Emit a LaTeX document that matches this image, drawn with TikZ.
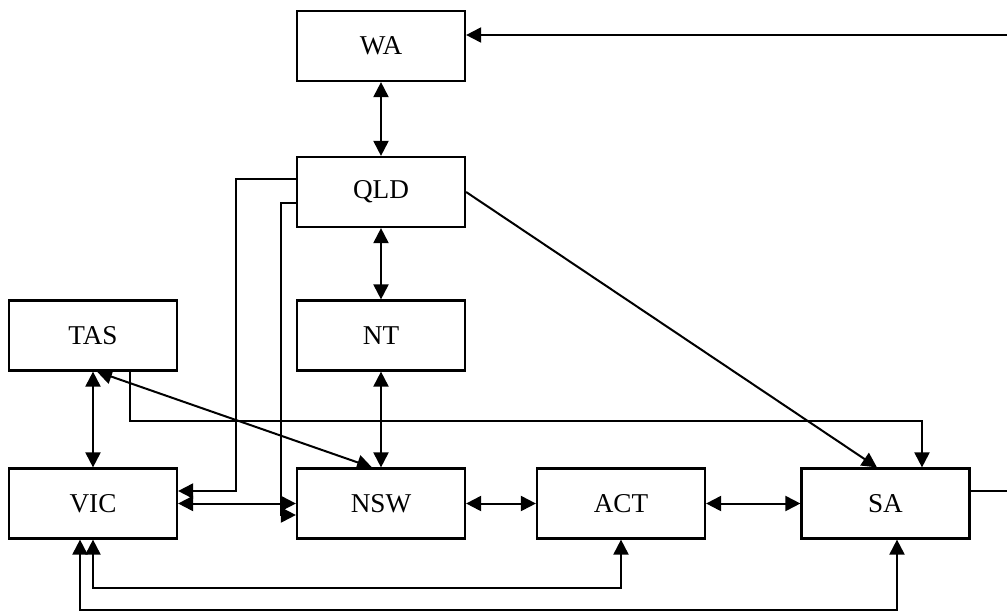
\documentclass[tikz,border=0pt]{standalone}
\usepackage{fontspec}
\setmainfont{Liberation Serif}
\usepackage{tikz}
\usetikzlibrary{arrows.meta}
\usetikzlibrary{calc}

\begin{document}
\begin{tikzpicture}[
        x=0.5pt, y=-0.5pt,
        box/.style={draw, line width=1.1pt, minimum width=84pt, minimum height=35pt, inner sep=0pt, align=center, font=\fontsize{13.6}{16}\selectfont},
        arrow/.style={-{Triangle[length=7.5pt,width=7.5pt]}, line width=1pt},
        biarrow/.style={{Triangle[length=7.5pt,width=7.5pt]}-{Triangle[length=7.5pt,width=7.5pt]}, line width=1pt}
    ]
        \useasboundingbox (0,0) rectangle (1007,611);
        \clip (0,0) rectangle (1007,611);

        % State boxes
        \node[box] (wa) at (381,46) {WA};
        \node[box] (qld) at (381,192) {QLD};
        \node[box] (nt) at (381,335.5) {NT};
        \node[box] (tas) at (93,335.5) {TAS};
        \node[box] (vic) at (93,503.5) {VIC};
        \node[box] (nsw) at (381,503.5) {NSW};
        \node[box] (act) at (621,503.5) {ACT};
        \node[box] (sa) at (885.5,503.5) {SA};

        % Straight links
        \draw[biarrow] (wa) -- (qld);
        \draw[biarrow] (qld) -- (nt);
        \draw[biarrow] (nt) -- (nsw);
        \draw[biarrow] (tas) -- (vic);
        \draw[biarrow] (vic) -- (nsw);
        \draw[biarrow] (nsw) -- (act);
        \draw[biarrow] (act) -- (sa);
        \draw[biarrow] ($(tas.south)+(4,0)$) -- ($(nsw.north)+(-9,0)$);
        \draw[arrow] (qld.east) -- ($(sa.north)+(-8.5,0)$);

        % Elbow links
        \draw[arrow] ($(qld.west)+(0,-13)$) -- ++(-60,0) |- ($(vic.east)+(0,-12.5)$);
        \draw[arrow] ($(qld.west)+(0,11)$) -- ++(-15,0) |- ($(nsw.west)+(0,11.5)$);
        \draw[arrow] ($(tas.south)+(37,0)$) -- ++(0,49) -| ($(sa.north)+(36.5,0)$);
        \draw[arrow] ($(sa.east)+(0,-12.5)$) -- ++(42,0) |- ($(wa.east)+(0,-11)$);
        \draw[biarrow] (vic.south) -- ++(0,48) -| (act.south);
        \draw[biarrow] ($(vic.south)+(-13,0)$) -- ++(0,70.5) -| ($(sa.south)+(11.5,0)$);
    \end{tikzpicture}
\end{document}
